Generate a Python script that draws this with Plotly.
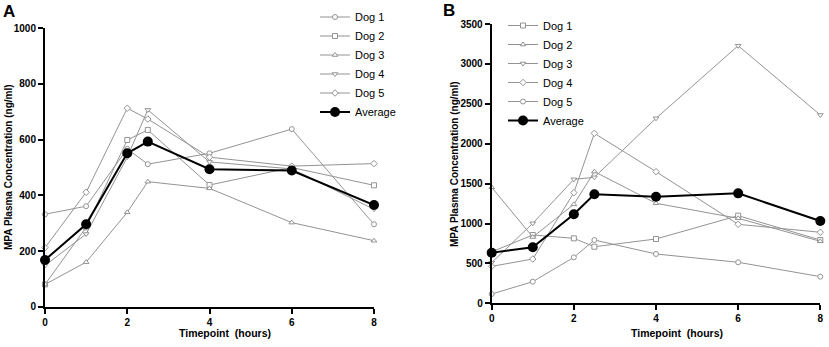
import plotly.graph_objects as go

# ---- data ----
time_h = [0, 1, 2, 2.5, 4, 6, 8]

a_dog1 = [332, 361, 567, 512, 551, 638, 296]
a_dog2 = [80, 285, 599, 635, 437, 500, 436]
a_dog3 = [80, 160, 339, 449, 425, 302, 237]
a_dog4 = [148, 261, 537, 707, 520, 495, 350]
a_dog5 = [212, 411, 713, 674, 537, 505, 514]
a_avg = [168, 296, 551, 593, 494, 489, 365]

b_dog1 = [645, 856, 814, 709, 806, 1098, 793]
b_dog2 = [1453, 830, 1240, 1650, 1253, 1065, 777]
b_dog3 = [510, 1002, 1553, 1579, 2318, 3228, 2360]
b_dog4 = [463, 555, 1386, 2130, 1650, 990, 890]
b_dog5 = [116, 271, 576, 793, 618, 514, 334]
b_avg = [634, 702, 1115, 1366, 1336, 1378, 1031]

dog_names = ["Dog 1", "Dog 2", "Dog 3", "Dog 4", "Dog 5"]
a_symbols = ["circle", "square", "triangle-up", "triangle-down", "diamond"]
b_symbols = ["square", "triangle-up", "triangle-down", "diamond", "circle"]

x_ticks = [0, 2, 4, 6, 8]
a_yticks = [0, 200, 400, 600, 800, 1000]
b_yticks = [0, 500, 1000, 1500, 2000, 2500, 3000, 3500]

# ---- styling ----
GRAY = "#939393"
FONT = "Arial, Liberation Sans, sans-serif"
W, H = 829, 347

fig = go.Figure()

def add_panel(dogs, avg, symbols, xa, ya, legend):
    for name, vals, sym in zip(dog_names, dogs, symbols):
        fig.add_trace(go.Scatter(
            x=time_h, y=vals, name=name, mode="lines+markers",
            line=dict(color=GRAY, width=1),
            marker=dict(symbol=sym, size=5, color="white",
                        line=dict(color=GRAY, width=1)),
            xaxis=xa, yaxis=ya, legend=legend, cliponaxis=False,
        ))
    fig.add_trace(go.Scatter(
        x=time_h, y=avg, name="Average", mode="lines+markers",
        line=dict(color="black", width=2),
        marker=dict(symbol="circle", size=10, color="black"),
        xaxis=xa, yaxis=ya, legend=legend, cliponaxis=False,
    ))

add_panel([a_dog1, a_dog2, a_dog3, a_dog4, a_dog5], a_avg, a_symbols, "x", "y", "legend")
add_panel([b_dog1, b_dog2, b_dog3, b_dog4, b_dog5], b_avg, b_symbols, "x2", "y2", "legend2")

axis_common = dict(
    showline=True, linecolor="black", linewidth=2,
    ticks="outside", ticklen=5, tickwidth=2, tickcolor="black",
    showgrid=False, zeroline=False,
    tickfont=dict(family=FONT, size=10, color="black", weight="bold"),
)

def px_x(p):
    return p / W

def px_y(p):
    return 1 - p / H

fig.update_layout(
    width=W, height=H,
    margin=dict(l=0, r=0, t=0, b=0, autoexpand=False),
    plot_bgcolor="white", paper_bgcolor="white",
    font=dict(family=FONT, color="black"),
    xaxis=dict(domain=[px_x(45), px_x(374)], range=[0, 8], tickvals=x_ticks,
               anchor="y", **axis_common),
    yaxis=dict(domain=[px_y(306.7), px_y(28.3)], range=[0, 1000], tickvals=a_yticks,
               anchor="x", **axis_common),
    xaxis2=dict(domain=[px_x(491.7), px_x(820.3)], range=[0, 8], tickvals=x_ticks,
                anchor="y2", **axis_common),
    yaxis2=dict(domain=[px_y(303.3), px_y(24)], range=[0, 3500], tickvals=b_yticks,
                anchor="x2", **axis_common),
    legend=dict(x=px_x(315), y=px_y(2.5), xanchor="left", yanchor="top",
                font=dict(family=FONT, size=11, color="black"),
                bgcolor="rgba(0,0,0,0)", itemwidth=30, tracegroupgap=0),
    legend2=dict(x=px_x(503), y=px_y(11), xanchor="left", yanchor="top",
                 font=dict(family=FONT, size=11, color="black"),
                 bgcolor="rgba(0,0,0,0)", itemwidth=30, tracegroupgap=0),
    showlegend=True,
)

annotations = [
    dict(text="<b>A</b>", x=px_x(9), y=px_y(11), font=dict(size=17)),
    dict(text="<b>B</b>", x=px_x(449), y=px_y(10.5), font=dict(size=17)),
    dict(text="<b>MPA Plasma Concentration (ng/ml)</b>", x=px_x(8), y=px_y(167),
         textangle=-90, font=dict(size=10)),
    dict(text="<b>MPA Plasma Concentration (ng/ml)</b>", x=px_x(454), y=px_y(164),
         textangle=-90, font=dict(size=10)),
    dict(text="<b>Timepoint\u00a0\u00a0(hours)</b>", x=px_x(225), y=px_y(333),
         font=dict(size=10.5)),
    dict(text="<b>Timepoint\u00a0\u00a0(hours)</b>", x=px_x(677), y=px_y(333),
         font=dict(size=10.5)),
]
for a in annotations:
    a.update(xref="paper", yref="paper", showarrow=False,
             xanchor="center", yanchor="middle")
    a["font"].update(family=FONT, color="black")
fig.update_layout(annotations=annotations)

fig.write_html("out.html",
               config={"displayModeBar": False},
               post_script="document.body.style.margin='0';document.body.style.overflow='hidden';")
